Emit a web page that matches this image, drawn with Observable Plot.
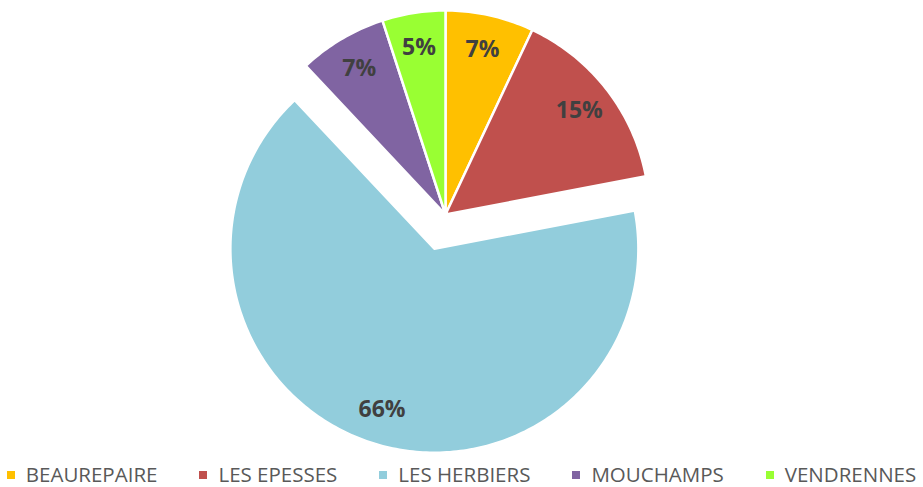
<!DOCTYPE html>
<html>
<head>
<meta charset="utf-8">
<script src="https://cdn.jsdelivr.net/npm/d3@7"></script>
<script src="https://cdn.jsdelivr.net/npm/@observablehq/plot@0.6"></script>
<style>
  html, body { margin: 0; padding: 0; background: #fff; }
  #wrap { width: 923px; height: 487px; position: relative; overflow: hidden; }
  #legend { position: absolute; left: 0; top: 463px; width: 923px; display: flex; justify-content: center; gap: 42px;
    font-family: "Open Sans", sans-serif; font-size: 20.5px; color: #595959; line-height: 23px; white-space: nowrap; }
  #legend .item { display: flex; align-items: center; }
  #legend .sw { width: 8px; height: 8px; margin-right: 11px; margin-top: 1px; }
</style>
</head>
<body>
<div id="wrap"><div id="chart"></div><div id="legend"></div></div>
<script>
const communes = ["BEAUREPAIRE", "LES EPESSES", "LES HERBIERS", "MOUCHAMPS", "VENDRENNES"];
const shares = [7, 15, 66, 7, 5];
const labels = ["7%", "15%", "66%", "7%", "5%"];
const colors = ["#FFC000", "#C0504D", "#92CDDC", "#8064A2", "#99FF33"];
const exploded = [false, false, true, false, false];

// layout
const W = 923, H = 458, CX = 445, CY = 214, R = 204, EXPLODE = 36 / 204, LABEL_R = 0.83;

const rows = communes.map((name, i) => ({name, share: shares[i], label: labels[i], exploded: exploded[i]}));
const arcs = d3.pie().sort(null).value(d => d.share)(rows);

const pts = [];
const labs = [];
for (const a of arcs) {
  const mid = (a.startAngle + a.endAngle) / 2;
  const off = a.data.exploded ? EXPLODE : 0;
  const ox = off * Math.sin(mid), oy = off * Math.cos(mid);
  pts.push({name: a.data.name, x: ox, y: oy});
  const n = Math.max(8, Math.ceil((a.endAngle - a.startAngle) * 60));
  for (let k = 0; k <= n; k++) {
    const t = a.startAngle + (a.endAngle - a.startAngle) * k / n;
    pts.push({name: a.data.name, x: ox + Math.sin(t), y: oy + Math.cos(t)});
  }
  labs.push({name: a.data.name, label: a.data.label, x: ox + LABEL_R * Math.sin(mid), y: oy + LABEL_R * Math.cos(mid)});
}

const chart = Plot.plot({
  width: W, height: H, margin: 0,
  x: {domain: [-CX / R, (W - CX) / R], range: [0, W], axis: null},
  y: {domain: [-(H - CY) / R, CY / R], range: [H, 0], axis: null},
  color: {domain: communes, range: colors},
  style: {background: "#fff"},
  marks: [
    Plot.line(pts, {x: "x", y: "y", z: "name", fill: "name", stroke: "white", strokeWidth: 2.5, curve: "linear-closed", strokeLinejoin: "round"}),
    Plot.text(labs, {x: "x", y: "y", text: "label", fill: "#404040", fontSize: 23, fontWeight: "bold", fontFamily: "Open Sans"})
  ]
});
document.getElementById("chart").appendChild(chart);

const legend = document.getElementById("legend");
communes.forEach((c, i) => {
  const it = document.createElement("div");
  it.className = "item";
  const sw = document.createElement("span");
  sw.className = "sw";
  sw.style.background = colors[i];
  const tx = document.createElement("span");
  tx.textContent = c;
  it.appendChild(sw); it.appendChild(tx);
  legend.appendChild(it);
});
</script>
</body>
</html>
